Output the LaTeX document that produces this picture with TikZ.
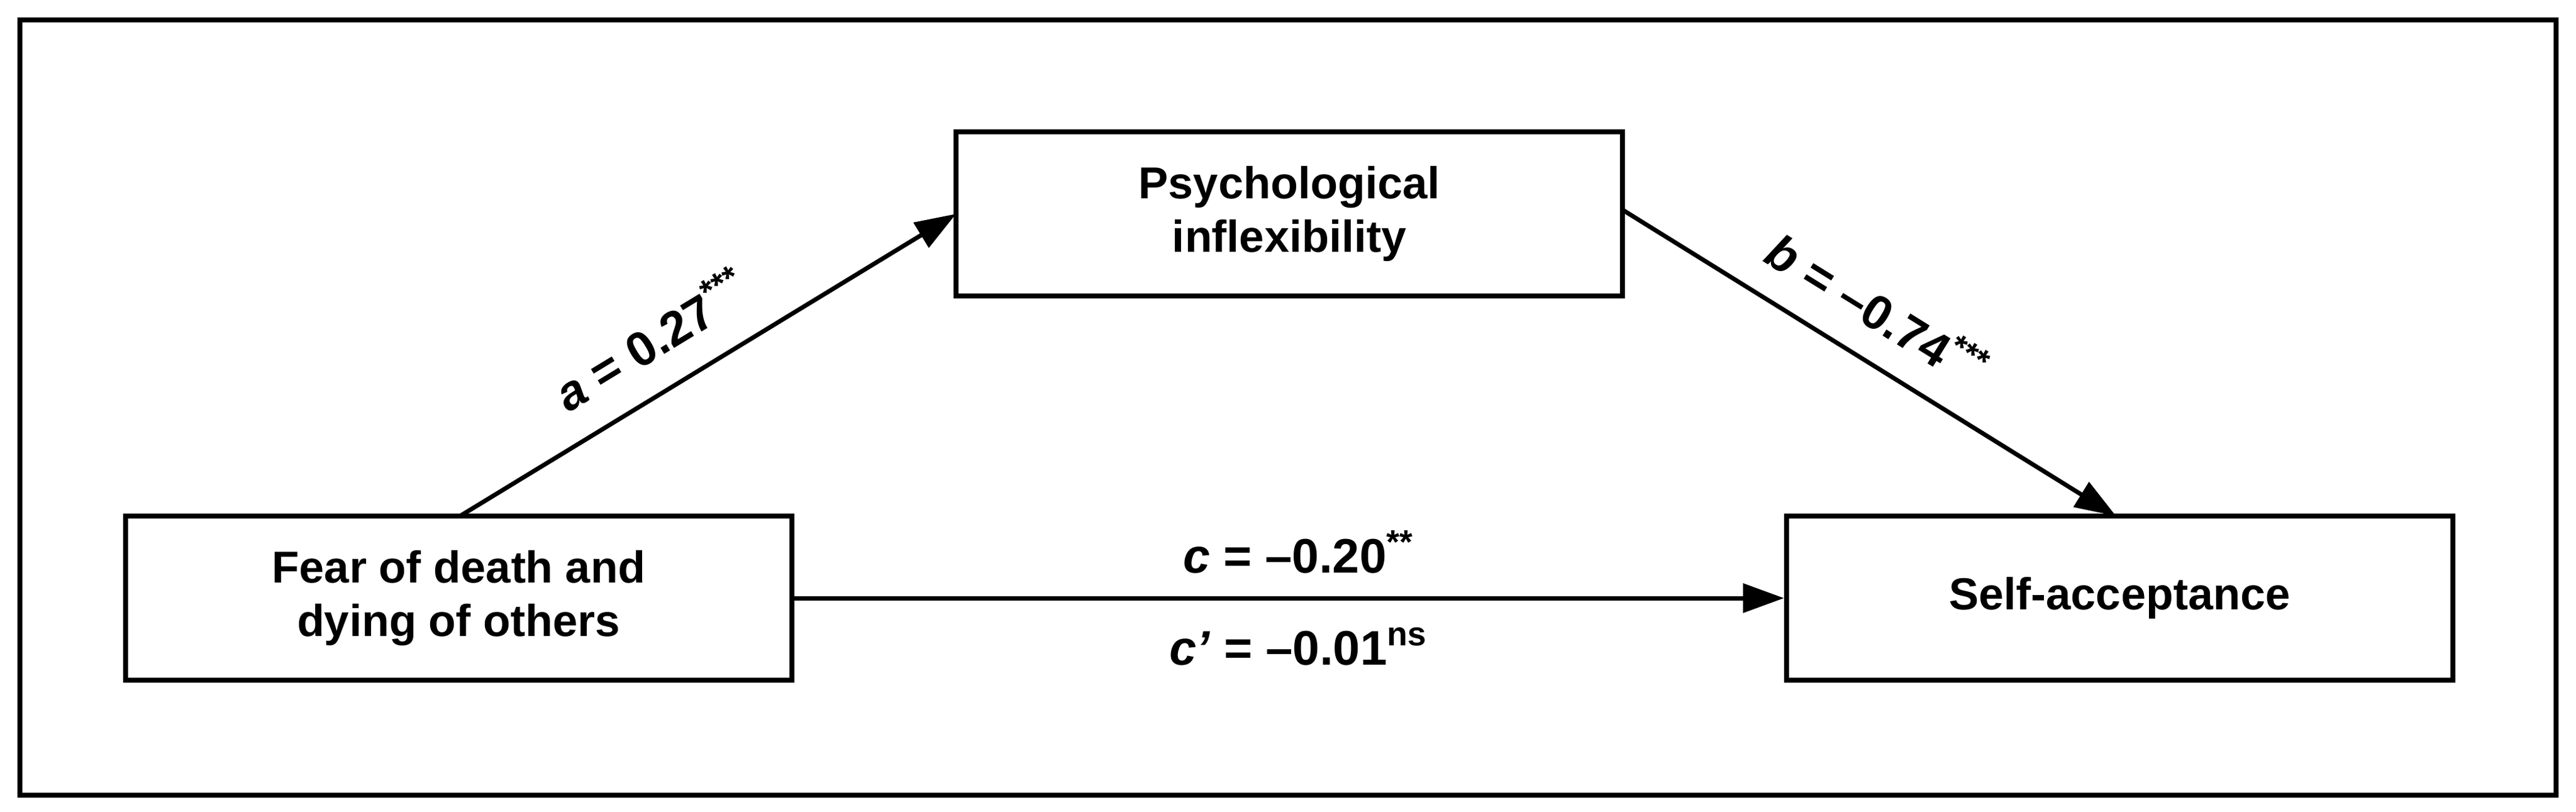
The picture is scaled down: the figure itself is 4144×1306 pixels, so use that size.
\documentclass[tikz,border=0pt]{standalone}
\usepackage{fontspec}
\setmainfont{Liberation Sans}
\usetikzlibrary{arrows.meta}
\newcommand{\supr}[1]{\raisebox{0.4em}{\fontsize{54}{60}\selectfont #1}}
\begin{document}
\begin{tikzpicture}[x=1pt,y=-1pt,
  box/.style={draw,line width=8pt,minimum width=1072pt,minimum height=264pt,align=center,font=\fontsize{72}{86}\selectfont\bfseries},
  conn/.style={line width=7pt,-{Triangle[length=66pt,width=46pt]}},
  lab/.style={font=\fontsize{78}{90}\selectfont\bfseries}]
\useasboundingbox (0,0) rectangle (4144,1306);
\draw[line width=8pt] (32,32) rectangle (4112,1279);
\node[box] (m) at (2074,344) {Psychological\\inflexibility};
\node[box] (x) at (738,962) {Fear of death and\\dying of others};
\node[box] (y) at (3410,962) {Self-acceptance};
\coordinate (xa) at (740,830);
\coordinate (ma) at (1538,344);
\coordinate (mb) at (2611,338);
\coordinate (yb) at (3404,830);
\draw[conn] (xa) -- (ma);
\draw[conn] (mb) -- (yb);
\draw[conn] (x.east) -- (y.west);
\node[lab,rotate=31.3] at (1045,545) {\textit{a} = 0.27\supr{***}};
\node[lab,rotate=-31.8] at (3020,495) {\textit{b} = –0.74\supr{***}};
\node[lab] at (2088,888) {\textit{c} = –0.20\supr{**}};
\node[lab] at (2088,1040) {\textit{c’} = –0.01\supr{ns}};
\end{tikzpicture}
\end{document}
